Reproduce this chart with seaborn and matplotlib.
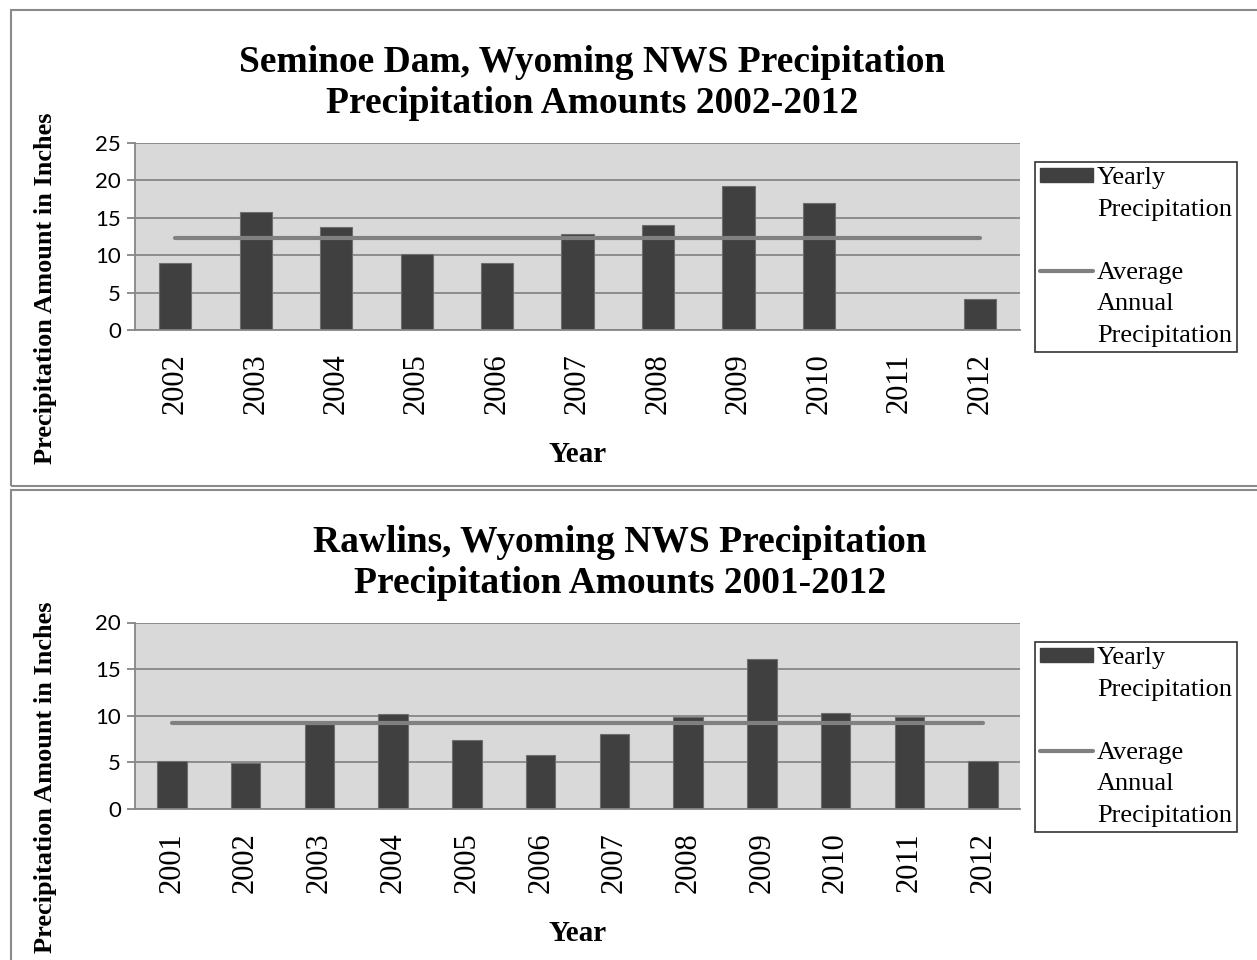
import matplotlib.pyplot as plt
from matplotlib.patches import Patch, Rectangle
from matplotlib.lines import Line2D
import numpy as np
import pandas as pd
import seaborn as sns

# Seminoe Dam (2011 has no value)
top_years = ["2002", "2003", "2004", "2005", "2006", "2007", "2008", "2009", "2010", "2011", "2012"]
top_precip = [8.9, 15.8, 13.8, 10.1, 8.9, 12.9, 14.0, 19.3, 17.0, np.nan, 4.2]
top_avg = 12.3

# Rawlins
bottom_years = ["2001", "2002", "2003", "2004", "2005", "2006", "2007", "2008", "2009", "2010", "2011", "2012"]
bottom_precip = [5.2, 4.9, 9.1, 10.2, 7.4, 5.8, 8.0, 9.9, 16.1, 10.3, 9.9, 5.1]
bottom_avg = 9.2

sns.set_theme(style="white")
plt.rcParams["font.family"] = ["Liberation Serif", "DejaVu Serif"]
plt.rcParams.update({"text.color": "black", "axes.labelcolor": "black",
                     "xtick.color": "black", "ytick.color": "black"})

BAR = "#404040"
AVG = "#808080"
GRID = "#868686"
SERIF = "Liberation Serif"
SANS = "Lato"

W, H = 1257, 960
fig = plt.figure(figsize=(W / 100, H / 100), dpi=100)

# panel frames
fig.patches.append(Rectangle((11 / W, 1 - 486 / H), 1.0, 476 / H, fill=False,
                             edgecolor="#8a8a8a", lw=1.5, transform=fig.transFigure))
fig.patches.append(Rectangle((11 / W, -0.01), 1.0, 1 - 490 / H + 0.01, fill=False,
                             edgecolor="#8a8a8a", lw=1.5, transform=fig.transFigure))


def draw_panel(rect, years, values, avg, ymax, title, title_xy, ylab_y, legend_top):
    ax = fig.add_axes(rect)
    df = pd.DataFrame({"year": years, "precip": values})
    sns.barplot(data=df, x="year", y="precip", order=years, color=BAR, saturation=1,
                width=0.4, edgecolor="#6e6e6e", linewidth=0.8, errorbar=None, ax=ax)
    avg_line = [avg] * len(years)
    ax.plot(np.arange(len(years)), avg_line, color=AVG, lw=3, solid_capstyle="round", zorder=3)

    ax.set_facecolor("#d9d9d9")
    ax.set_xlim(-0.5, len(years) - 0.5)
    ax.set_ylim(0, ymax)
    ax.set_yticks(range(0, ymax + 1, 5))
    ax.yaxis.grid(True, color=GRID, lw=1.3)
    ax.set_axisbelow(True)
    for s in ["top", "right"]:
        ax.spines[s].set_visible(False)
    for s in ["left", "bottom"]:
        ax.spines[s].set_color(GRID)
        ax.spines[s].set_linewidth(1.3)

    ax.set_xticks(np.arange(-0.5, len(years)), minor=True)
    ax.tick_params(axis="x", which="major", length=0, pad=17)
    ax.tick_params(axis="x", which="minor", length=6, color=GRID, width=1.3, direction="out")
    ax.tick_params(axis="y", length=6, color=GRID, width=1.3, direction="out", left=True, pad=4)
    ax.set_xticklabels(years, rotation=90, fontsize=22, family=SERIF)
    for t in ax.get_yticklabels():
        t.set_family(SANS)
        t.set_fontsize(16)

    ax.set_xlabel("Year", fontsize=21, fontweight="bold", family=SERIF, labelpad=19)
    ax.set_ylabel("Precipitation Amount in Inches", fontsize=19, fontweight="bold", family=SERIF)
    ax.yaxis.set_label_coords(-0.088, ylab_y)

    fig.text(title_xy[0] / W, 1 - title_xy[1] / H, title, ha="center", va="center",
             fontsize=27, fontweight="bold", family=SERIF, linespacing=1.22)

    blank = Patch(facecolor="none", edgecolor="none")
    handles = [Patch(facecolor=BAR, edgecolor=BAR), blank, blank,
               Line2D([], [], color=AVG, lw=3), blank, blank]
    labels = ["Yearly", "Precipitation", "", "Average", "Annual", "Precipitation"]
    leg = ax.legend(handles, labels, loc="upper left",
                    bbox_to_anchor=(1035 / W, 1 - legend_top / H), bbox_transform=fig.transFigure,
                    borderaxespad=0, prop={"family": SERIF, "size": 19},
                    frameon=True, fancybox=False, handlelength=2.0, handleheight=0.45,
                    handletextpad=0.15, labelspacing=0.36, borderpad=0.2)
    leg.get_frame().set_edgecolor("black")
    leg.get_frame().set_linewidth(1.2)
    for t in leg.get_texts():
        t.set_color("black")
    return ax


draw_panel([135 / W, 1 - 330 / H, 885 / W, 187 / H], top_years, top_precip, top_avg, 25,
           "Seminoe Dam, Wyoming NWS Precipitation\nPrecipitation Amounts 2002-2012",
           (592, 83), 0.225, 162)
draw_panel([135 / W, 1 - 809 / H, 885 / W, 186.5 / H], bottom_years, bottom_precip, bottom_avg, 20,
           "Rawlins, Wyoming NWS Precipitation\nPrecipitation Amounts 2001-2012",
           (620, 563), 0.17, 642)

fig.savefig("out.png", dpi=100)
